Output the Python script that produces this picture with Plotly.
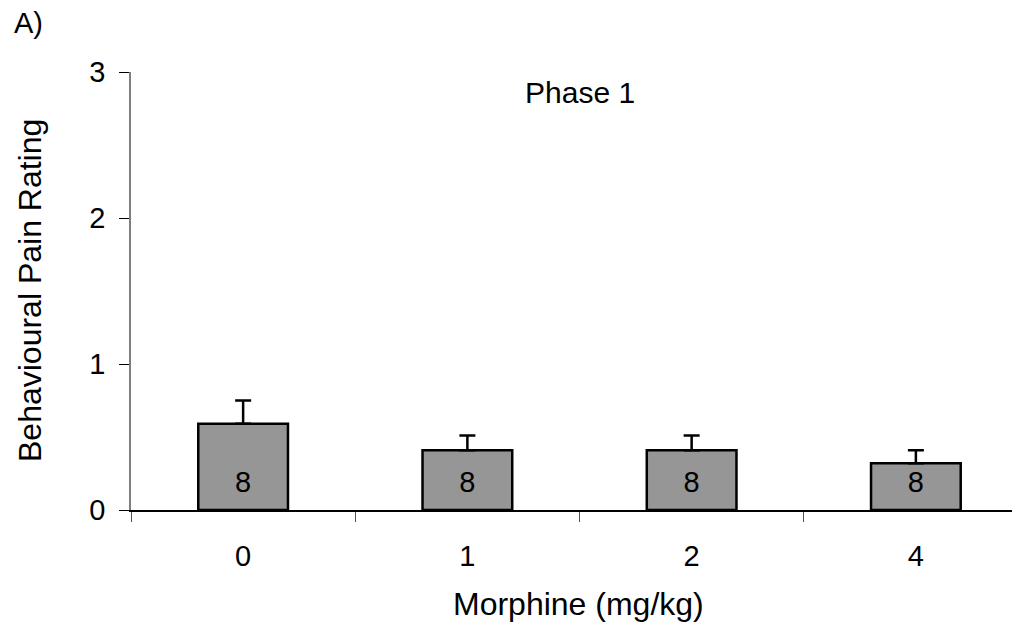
import plotly.graph_objects as go

# Data
doses = ["0", "1", "2", "4"]
pain_mean = [0.59, 0.41, 0.41, 0.32]
pain_sem = [0.16, 0.10, 0.10, 0.09]
n_subjects = [8, 8, 8, 8]
y_ticks = [0, 1, 2, 3]

FONT = "Liberation Sans, Arial, sans-serif"

# page has an 8px body margin; plot area on screen: x 131..1028, y 72..510
L, T, PW, PH = 123, 64, 897, 438
SX0, SY0 = 131, 510


def px(x):
    return (x - SX0) / PW


def py(y):
    return (SY0 - y) / PH


fig = go.Figure()
fig.add_trace(go.Bar(
    x=doses, y=pain_mean, width=0.40,
    marker=dict(color="#969696", line=dict(color="black", width=2.5)),
    error_y=dict(type="data", array=pain_sem, symmetric=False,
                 arrayminus=[0] * len(pain_sem),
                 color="black", thickness=2.5, width=8),
    showlegend=False, hoverinfo="skip",
))
fig.add_trace(go.Scatter(
    x=doses, y=[0.175] * len(doses), mode="text",
    text=[str(v) for v in n_subjects],
    textfont=dict(family=FONT, size=29, color="black"),
    showlegend=False, hoverinfo="skip",
))

fig.update_layout(
    width=1020, height=632,
    margin=dict(l=L, r=0, t=T, b=632 - T - PH),
    paper_bgcolor="white", plot_bgcolor="white",
    font=dict(family=FONT, color="black"),
    xaxis=dict(
        type="category", range=[-0.5, 3.5],
        showline=True, linecolor="black", linewidth=1.5,
        ticks="outside", tickson="boundaries", ticklen=10,
        tickcolor="#555555", tickwidth=1,
        showgrid=False, zeroline=False,
        tickfont=dict(family=FONT, size=29, color="black"),
        ticklabelstandoff=19,
    ),
    yaxis=dict(
        range=[0, 3], tickvals=y_ticks,
        showline=True, linecolor="#808080", linewidth=1.5,
        ticks="outside", ticklen=10, tickcolor="black", tickwidth=1,
        showgrid=False, zeroline=False,
        tickfont=dict(family=FONT, size=29, color="black"),
        ticklabelstandoff=8,
    ),
    annotations=[
        dict(text="Behavioural Pain Rating", textangle=-90,
             xref="paper", yref="paper", x=px(30), y=py(291),
             xanchor="center", yanchor="middle", showarrow=False,
             font=dict(family=FONT, size=32)),
        dict(text="Morphine (mg/kg)",
             xref="paper", yref="paper", x=px(578), y=py(604),
             xanchor="center", yanchor="middle", showarrow=False,
             font=dict(family=FONT, size=32)),
        dict(text="Phase 1",
             xref="paper", yref="paper", x=px(580), y=py(93),
             xanchor="center", yanchor="middle", showarrow=False,
             font=dict(family=FONT, size=30)),
        dict(text="A)",
             xref="paper", yref="paper", x=px(28), y=py(23),
             xanchor="center", yanchor="middle", showarrow=False,
             font=dict(family=FONT, size=29)),
    ],
)

fig.write_html("out.html")
